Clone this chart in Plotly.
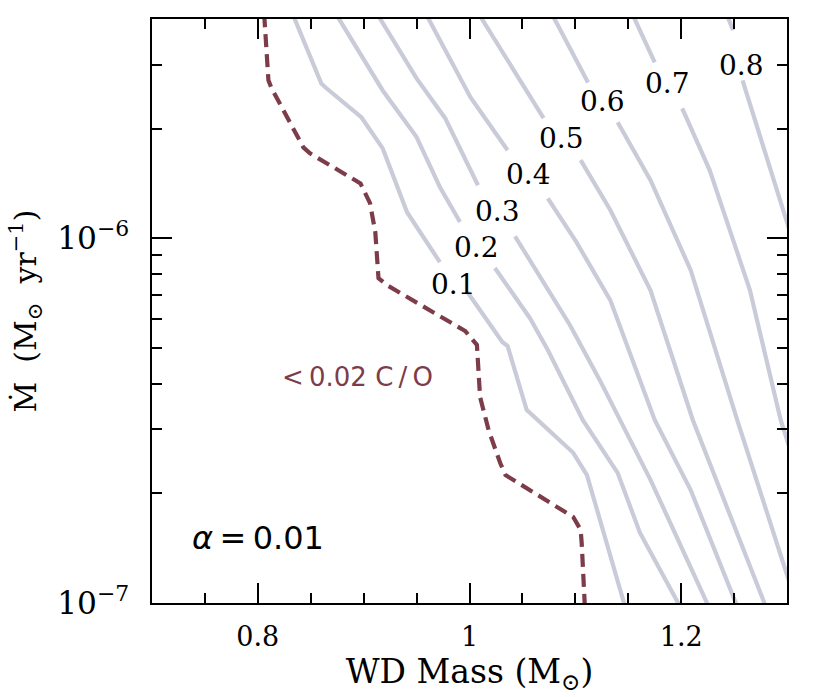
import plotly.graph_objects as go

# ---------------- data ----------------
# Dashed boundary of the "<0.02 C/O" region: WD mass and log10(Mdot)
bound_mass = [0.806, 0.810, 0.813, 0.843, 0.849, 0.897, 0.906, 0.911, 0.914, 0.922,
              0.996, 1.003, 1.007, 1.010, 1.018, 1.029, 1.034, 1.098, 1.105, 1.106, 1.109]
bound_logmdot = [-5.385, -5.566, -5.588, -5.750, -5.766, -5.849, -5.903, -5.983, -6.109, -6.128,
                 -6.254, -6.279, -6.292, -6.435, -6.525, -6.616, -6.649, -6.764, -6.799, -6.835, -7.01]

# Contour levels (C/O fraction) - None marks the break where the inline label sits
levels = ["0.1", "0.2", "0.3", "0.4", "0.5", "0.6", "0.7", "0.8"]

c01_mass = [0.833, 0.860, 0.864, 0.898, 0.918, 0.941, 0.972, None, 0.998, 1.031, 1.036, 1.054, 1.098, 1.111, 1.147]
c01_logm = [-5.385, -5.575, -5.586, -5.668, -5.753, -5.928, -6.065, None, -6.147, -6.284, -6.295, -6.470, -6.588, -6.649, -7.01]

c02_mass = [0.874, 0.918, 0.950, 0.972, 0.991, None, 1.024, 1.057, 1.074, 1.107, 1.140, 1.161, 1.199]
c02_logm = [-5.385, -5.594, -5.722, -5.859, -5.955, None, -6.081, -6.218, -6.306, -6.498, -6.643, -6.807, -7.01]

c03_mass = [0.913, 0.950, 0.977, 1.008, None, 1.043, 1.071, 1.095, 1.123, 1.142, 1.171, 1.226]
c03_logm = [-5.385, -5.561, -5.670, -5.854, None, -5.994, -6.128, -6.238, -6.388, -6.498, -6.662, -7.01]

c04_mass = [0.959, 1.001, 1.036, None, 1.074, 1.100, 1.133, 1.175, 1.209, 1.253]
c04_logm = [-5.385, -5.613, -5.758, None, -5.890, -6.005, -6.169, -6.498, -6.690, -7.01]

c05_mass = [1.009, 1.048, 1.070, None, 1.105, 1.133, 1.171, 1.211, 1.280]
c05_logm = [-5.385, -5.566, -5.670, None, -5.785, -5.922, -6.142, -6.498, -7.01]

c06_mass = [1.078, 1.112, None, 1.140, 1.171, 1.209, 1.253, 1.303]
c06_logm = [-5.385, -5.572, None, -5.681, -5.840, -6.087, -6.498, -6.950]

c07_mass = [1.154, 1.175, None, 1.201, 1.227, 1.265, 1.294, 1.303]
c07_logm = [-5.385, -5.517, None, -5.643, -5.813, -6.142, -6.498, -6.580]

c08_mass = [1.243, 1.249, None, 1.258, 1.303]
c08_logm = [-5.385, -5.429, None, -5.566, -5.984]

contour_mass = [c01_mass, c02_mass, c03_mass, c04_mass, c05_mass, c06_mass, c07_mass, c08_mass]
contour_logm = [c01_logm, c02_logm, c03_logm, c04_logm, c05_logm, c06_logm, c07_logm, c08_logm]

# Inline label positions (mass, log10 Mdot)
label_mass = [0.985, 1.007, 1.026, 1.056, 1.087, 1.126, 1.187, 1.257]
label_logm = [-6.125, -6.024, -5.925, -5.824, -5.725, -5.624, -5.575, -5.525]

region_text = "<\u20090.02 C\u2009/\u2009O"
region_mass, region_logm = 0.894, -6.38
alpha_text = "<i>\u03b1</i>\u2009=\u20090.01"
alpha_mass, alpha_logm = 0.80, -6.822

x_range = [0.7, 1.3]
y_range = [-7.0, -5.39794]   # log10(1e-7) .. log10(4e-6)

GREY = "#c9cbd9"
MAROON = "#7d3c4a"


def unlog(vals):
    return [None if v is None else 10 ** v for v in vals]


fig = go.Figure()

for xs, ys in zip(contour_mass, contour_logm):
    fig.add_trace(go.Scatter(x=xs, y=unlog(ys), mode="lines",
                             line=dict(color=GREY, width=4.2),
                             connectgaps=False, hoverinfo="skip", showlegend=False))

fig.add_trace(go.Scatter(x=bound_mass, y=unlog(bound_logmdot), mode="lines",
                         line=dict(color=MAROON, width=4.2, dash="13px,7px"),
                         hoverinfo="skip", showlegend=False))

ann = []
for t, xm, ym in zip(levels, label_mass, label_logm):
    ann.append(dict(x=xm, y=ym, xref="x", yref="y", text=t, showarrow=False,
                    font=dict(family="DejaVu Serif", size=28, color="black")))
ann.append(dict(x=region_mass, y=region_logm, xref="x", yref="y", text=region_text,
                showarrow=False, font=dict(family="DejaVu Sans", size=26, color=MAROON)))
ann.append(dict(x=alpha_mass, y=alpha_logm, xref="x", yref="y", text=alpha_text,
                showarrow=False, font=dict(family="DejaVu Sans", size=32, color="black")))

axis_common = dict(showline=True, linecolor="black", linewidth=1.6, mirror="allticks",
                   ticks="inside", ticklen=20, tickwidth=1.5, tickcolor="black",
                   showgrid=False, zeroline=False)

fig.update_layout(
    width=830, height=697,
    margin=dict(l=152, r=43, t=19, b=94),
    paper_bgcolor="white", plot_bgcolor="white",
    annotations=ann,
    xaxis=dict(range=x_range, tick0=0, dtick=0.2,
               minor=dict(ticks="inside", ticklen=10, tickwidth=1.5, tickcolor="black", dtick=0.05),
               tickfont=dict(family="DejaVu Serif", size=27, color="black"),
               ticklabelstandoff=9,
               title=dict(text="WD Mass (M<sub>\u2299</sub>)",
                          font=dict(family="DejaVu Serif", size=33, color="black"),
                          standoff=0),
               **axis_common),
    yaxis=dict(type="log", range=y_range, dtick=1, exponentformat="power",
               minor=dict(ticks="inside", ticklen=10, tickwidth=1.5, tickcolor="black", dtick="D1"),
               tickfont=dict(family="DejaVu Serif", size=25, color="black"),
               ticklabelstandoff=16,
               title=dict(text="\u1e40  (M<sub>\u2299</sub>  yr<sup>\u22121</sup>)",
                          font=dict(family="DejaVu Serif", size=30, color="black"),
                          standoff=12),
               **axis_common),
)

fig.write_html("out.html", config={"displayModeBar": False},
               post_script="document.body.style.margin='0px';")
